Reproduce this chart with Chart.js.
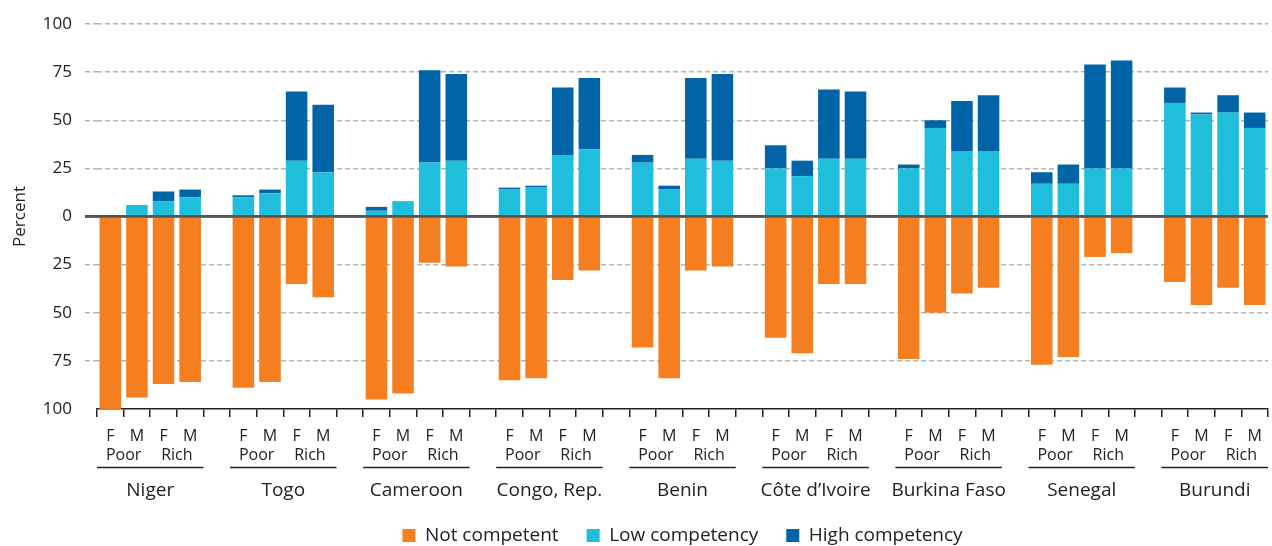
<!DOCTYPE html>
<html>
<head>
<meta charset="utf-8">
<script src="https://cdn.jsdelivr.net/npm/chart.js@4"></script>
<style>
  html, body { margin: 0; padding: 0; background: #fff; }
  #wrap { width: 1272px; height: 546px; }
</style>
</head>
<body>
<div id="wrap"><canvas id="chart"></canvas></div>
<script>
const countries = ["Niger", "Togo", "Cameroon", "Congo, Rep.", "Benin", "Côte d’Ivoire", "Burkina Faso", "Senegal", "Burundi"];
const sexes = ["F", "M", "F", "M"];
const wealth = ["Poor", "Rich"];
const yTicks = [-100, -75, -50, -25, 0, 25, 50, 75, 100];

// per country: F Poor, M Poor, F Rich, M Rich
const notCompetent = [
  100, 94, 87, 86,
  89, 86, 35, 42,
  95, 92, 24, 26,
  85, 84, 33, 28,
  68, 84, 28, 26,
  63, 71, 35, 35,
  74, 50, 40, 37,
  77, 73, 21, 19,
  34, 46, 37, 46
];
const lowCompetency = [
  0, 6, 8, 10,
  10, 12, 29, 23,
  3, 8, 28, 29,
  14, 15, 32, 35,
  28, 14, 30, 29,
  25, 21, 30, 30,
  25, 46, 34, 34,
  17, 17, 25, 25,
  59, 53, 54, 46
];
const highCompetency = [
  0, 0, 5, 4,
  1, 2, 36, 35,
  2, 0, 48, 45,
  1, 1, 35, 37,
  4, 2, 42, 45,
  12, 8, 36, 35,
  2, 4, 26, 29,
  6, 10, 54, 56,
  8, 1, 9, 8
];

// put an empty slot between countries
function withGaps(values, gap) {
  const out = [];
  countries.forEach((c, i) => {
    for (let j = 0; j < 4; j++) out.push(values[i * 4 + j]);
    if (i < countries.length - 1) out.push(gap);
  });
  return out;
}

const labels = withGaps(countries.flatMap(() => sexes), "");

Chart.defaults.font.family = "'Open Sans', sans-serif";
Chart.defaults.color = "#222";

const zeroLine = {
  id: "zeroLine",
  afterDatasetsDraw(chart) {
    const { ctx, chartArea, scales: { y } } = chart;
    const py = y.getPixelForValue(0);
    ctx.save();
    ctx.strokeStyle = "#555";
    ctx.lineWidth = 2.5;
    ctx.beginPath();
    ctx.moveTo(chartArea.left - 12, py);
    ctx.lineTo(chartArea.right, py);
    ctx.stroke();
    ctx.restore();
  }
};

const groupLabels = {
  id: "groupLabels",
  afterDraw(chart) {
    const { ctx, chartArea, scales: { x } } = chart;
    const half = (x.getPixelForValue(1) - x.getPixelForValue(0)) / 2;
    const base = chartArea.bottom;
    ctx.save();
    ctx.fillStyle = "#222";
    ctx.strokeStyle = "#222";
    ctx.textAlign = "center";
    ctx.textBaseline = "middle";
    countries.forEach((name, i) => {
      const s = i * 5;
      const left = x.getPixelForValue(s) - half;
      const right = x.getPixelForValue(s + 3) + half;
      ctx.font = "16px 'Open Sans'";
      wealth.forEach((w, j) => {
        const cx = (x.getPixelForValue(s + 2 * j) + x.getPixelForValue(s + 2 * j + 1)) / 2;
        ctx.fillText(w, cx, base + 46);
      });
      ctx.lineWidth = 1.5;
      ctx.beginPath();
      ctx.moveTo(left, base + 58.5);
      ctx.lineTo(right, base + 58.5);
      ctx.stroke();
      ctx.font = "19px 'Open Sans'";
      ctx.fillText(name, (left + right) / 2, base + 82);
    });
    ctx.restore();
  }
};

const gridColor = c => c.tick.value === 0 ? "#555" : (c.tick.value === -100 ? "rgba(0,0,0,0)" : "#b3b3b3");
const gridWidth = c => c.tick.value === 0 ? 2.5 : 1.5;
const gridDash = c => c.tick.value === 0 ? [] : [5, 3];

new Chart(document.getElementById("chart"), {
  type: "bar",
  data: {
    labels: labels,
    datasets: [
      { label: "Not competent", data: withGaps(notCompetent.map(v => -v), null), backgroundColor: "#F47E20" },
      { label: "Low competency", data: withGaps(lowCompetency, null), backgroundColor: "#1FBFDB" },
      { label: "High competency", data: withGaps(highCompetency, null), backgroundColor: "#0064A7" }
    ]
  },
  options: {
    responsive: true,
    maintainAspectRatio: false,
    animation: false,
    datasets: { bar: { barPercentage: 0.81, categoryPercentage: 1 } },
    layout: { padding: { top: 24, right: 4, bottom: -9, left: 0 } },
    plugins: {
      tooltip: { enabled: false },
      legend: {
        position: "bottom",
        fullSize: false,
        labels: { boxWidth: 13, boxHeight: 13, padding: 28, color: "#222", font: { size: 19 } }
      }
    },
    scales: {
      x: {
        stacked: true,
        offset: true,
        afterFit: s => { s.height = 89; },
        border: { display: true, color: "#222", width: 1.5 },
        grid: { offset: true, drawOnChartArea: false, drawTicks: true, tickLength: 8, color: "#222", lineWidth: 1.5 },
        ticks: { autoSkip: false, maxRotation: 0, padding: 10, color: "#222", font: { size: 16 } }
      },
      y: {
        stacked: true,
        min: -100,
        max: 100,
        afterFit: s => { s.width = 97; },
        afterBuildTicks: s => { s.ticks = yTicks.map(v => ({ value: v })); },
        border: { display: false, dash: gridDash },
        title: { display: true, text: "Percent", color: "#222", font: { size: 17 }, padding: { top: 10, bottom: 0 } },
        grid: {
          color: gridColor,
          tickColor: gridColor,
          lineWidth: gridWidth,
          tickWidth: gridWidth,
          tickBorderDash: gridDash,
          drawTicks: true,
          tickLength: 12
        },
        ticks: { padding: 13, color: "#222", font: { size: 17 }, callback: v => Math.abs(v) }
      }
    }
  },
  plugins: [zeroLine, groupLabels]
});
</script>
</body>
</html>
